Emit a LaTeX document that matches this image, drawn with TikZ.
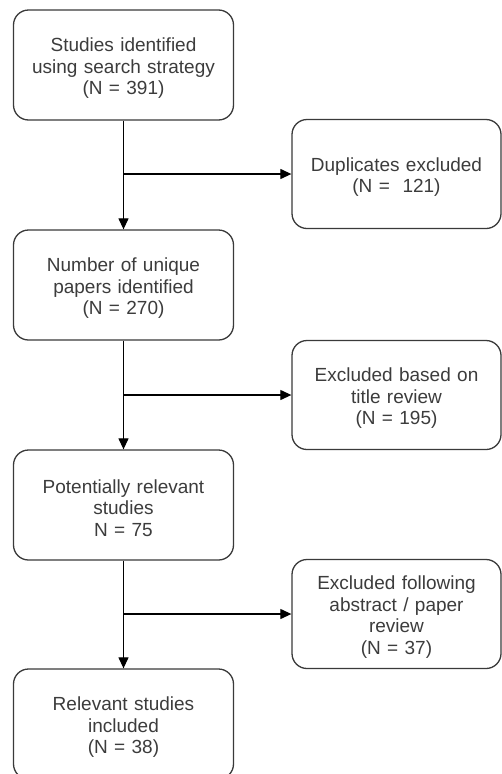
\documentclass[tikz,border=0pt]{standalone}
\usepackage{fontspec}
\setmainfont{Liberation Sans}
\usetikzlibrary{arrows.meta}
\definecolor{ink}{HTML}{3C3C3C}
\definecolor{edge}{HTML}{3A3A3A}
\tikzset{
  stage/.style={draw=edge, line width=1.3pt, rounded corners=15pt, fill=white,
    minimum width=220pt, minimum height=110pt, text width=210pt, align=center,
    font=\fontsize{19pt}{21.7pt}\selectfont, text=ink, inner sep=0pt,
    execute at begin node={\rule{0pt}{20pt}}},
  dropped/.style={stage, minimum width=209pt, minimum height=109pt, text width=205pt},
  flow/.style={draw=black, line width=1.2pt, -{Triangle[length=11pt,width=10pt]}}
}
\begin{document}
\begin{tikzpicture}[x=1pt, y=-1pt]
\useasboundingbox (0,0) rectangle (502,774);
\clip (0,0) rectangle (502,774);

% main column
\node[stage] (s1) at (123.5,65) {Studies identified\\using search strategy\\(N = 391)};
\node[stage] (s2) at (123.5,285) {Number of unique\\papers identified\\(N = 270)};
\node[stage] (s3) at (123.5,505) {Potentially relevant\\studies\\N = 75};
\node[stage] (s4) at (123.5,724) {Relevant studies\\included\\(N = 38)};

% exclusion boxes
\node[dropped] (x1) at (396.5,174) {Duplicates excluded\\(N = \ 121)};
\node[dropped] (x2) at (396.5,395) {Excluded based on\\title review\\(N = 195)};
\node[dropped] (x3) at (396.5,614) {Excluded following\\abstract / paper\\review\\(N = 37)};

% branch points on the main line
\coordinate (b1) at (s1.south |- x1.west);
\coordinate (b2) at (s2.south |- x2.west);
\coordinate (b3) at (s3.south |- x3.west);

% connectors
\draw[flow] (s1.south) -- (s2.north);
\draw[flow] (s2.south) -- (s3.north);
\draw[flow] (s3.south) -- (s4.north);
\draw[flow] (b1) -- (x1.west);
\draw[flow] (b2) -- (x2.west);
\draw[flow] (b3) -- (x3.west);
\end{tikzpicture}
\end{document}
